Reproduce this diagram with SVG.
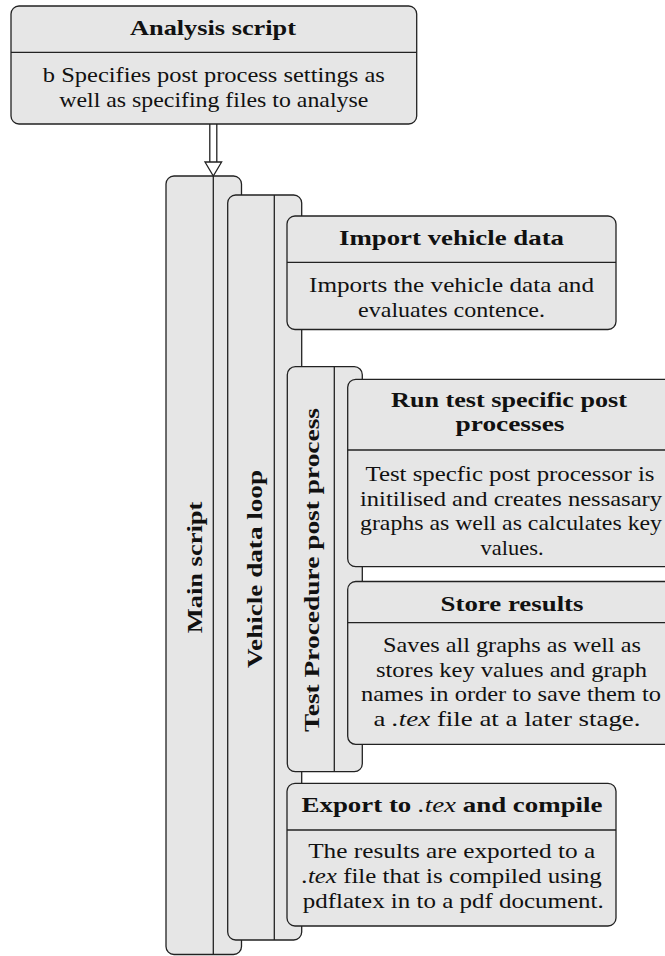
<svg xmlns="http://www.w3.org/2000/svg" width="665" height="956" viewBox="0 0 665 956">
<style>
.box{fill:#e6e6e6;stroke:#222;stroke-width:1.3}
.div{stroke:#222;stroke-width:1.3;fill:none}
text{font-family:'Liberation Serif','Times New Roman',serif;font-size:22px;fill:#111;text-anchor:middle}
.t{font-weight:bold}
.i{font-style:italic}
</style>
<rect width="665" height="956" fill="#fff"/>

<g id="main-script">
<rect class="box" x="166" y="176" width="75.5" height="778.5" rx="8"/>
<line class="div" x1="213.3" y1="176" x2="213.3" y2="954.5"/>
<text class="t" transform="translate(201.5,567.5) rotate(-90)" textLength="131.6" lengthAdjust="spacingAndGlyphs">Main script</text>
</g>

<g id="vehicle-data-loop">
<rect class="box" x="227.7" y="195" width="74" height="745" rx="8"/>
<line class="div" x1="274.3" y1="195" x2="274.3" y2="940"/>
<text class="t" transform="translate(261.5,569) rotate(-90)" textLength="198" lengthAdjust="spacingAndGlyphs">Vehicle data loop</text>
</g>

<g id="import-vehicle-data">
<rect class="box" x="287" y="216" width="329" height="113.5" rx="8"/>
<line class="div" x1="287" y1="262.3" x2="616" y2="262.3"/>
<text class="t" x="451.5" y="245" textLength="225" lengthAdjust="spacingAndGlyphs">Import vehicle data</text>
<text x="451.5" y="291.5" textLength="285" lengthAdjust="spacingAndGlyphs">Imports the vehicle data and</text>
<text x="451.5" y="316.5" textLength="187" lengthAdjust="spacingAndGlyphs">evaluates contence.</text>
</g>

<g id="test-procedure-post-process">
<rect class="box" x="287.3" y="366.7" width="75" height="405" rx="8"/>
<line class="div" x1="334.3" y1="366.7" x2="334.3" y2="771.7"/>
<text class="t" transform="translate(318.5,570) rotate(-90)" textLength="324" lengthAdjust="spacingAndGlyphs">Test Procedure post process</text>
</g>

<g id="run-test-specific">
<rect class="box" x="347.7" y="379.3" width="326" height="187.4" rx="8"/>
<line class="div" x1="347.7" y1="450" x2="673.7" y2="450"/>
<text class="t" x="509" y="406.7" textLength="236" lengthAdjust="spacingAndGlyphs">Run test specific post</text>
<text class="t" x="510" y="431" textLength="109" lengthAdjust="spacingAndGlyphs">processes</text>
<text x="510" y="481" textLength="289" lengthAdjust="spacingAndGlyphs">Test specfic post processor is</text>
<text x="511" y="505.5" textLength="302" lengthAdjust="spacingAndGlyphs">initilised and creates nessasary</text>
<text x="511" y="530" textLength="302" lengthAdjust="spacingAndGlyphs">graphs as well as calculates key</text>
<text x="512" y="554.5" textLength="63" lengthAdjust="spacingAndGlyphs">values.</text>
</g>

<g id="store-results">
<rect class="box" x="347.7" y="581.5" width="326" height="162.8" rx="8"/>
<line class="div" x1="347.7" y1="622.7" x2="673.7" y2="622.7"/>
<text class="t" x="512" y="610.7" textLength="143" lengthAdjust="spacingAndGlyphs">Store results</text>
<text x="512" y="652" textLength="258" lengthAdjust="spacingAndGlyphs">Saves all graphs as well as</text>
<text x="511.5" y="676.5" textLength="271" lengthAdjust="spacingAndGlyphs">stores key values and graph</text>
<text x="511" y="701" textLength="300" lengthAdjust="spacingAndGlyphs">names in order to save them to</text>
<text x="507" y="725.5" textLength="267" lengthAdjust="spacingAndGlyphs">a <tspan class="i">.tex</tspan> file at a later stage.</text>
</g>

<g id="export-tex">
<rect class="box" x="287" y="783.3" width="329" height="142.7" rx="8"/>
<line class="div" x1="287" y1="830" x2="616" y2="830"/>
<text class="t" x="452" y="811.7" textLength="301" lengthAdjust="spacingAndGlyphs">Export to <tspan class="i" font-weight="normal">.tex</tspan> and compile</text>
<text x="451.7" y="858.3" textLength="287" lengthAdjust="spacingAndGlyphs">The results are exported to a</text>
<text x="451.7" y="883.3" textLength="300" lengthAdjust="spacingAndGlyphs"><tspan class="i">.tex</tspan> file that is compiled using</text>
<text x="453.3" y="908.3" textLength="301" lengthAdjust="spacingAndGlyphs">pdflatex in to a pdf document.</text>
</g>

<g id="analysis-script">
<rect class="box" x="11" y="6" width="405.7" height="118" rx="8"/>
<line class="div" x1="11" y1="52.3" x2="416.7" y2="52.3"/>
<text class="t" x="213" y="35" textLength="166" lengthAdjust="spacingAndGlyphs">Analysis script</text>
<text x="213.8" y="82" textLength="342" lengthAdjust="spacingAndGlyphs">b Specifies post process settings as</text>
<text x="213.8" y="106.5" textLength="309" lengthAdjust="spacingAndGlyphs">well as specifing files to analyse</text>
</g>

<g id="connectors">
<line class="div" x1="209.8" y1="124" x2="209.8" y2="162"/>
<line class="div" x1="216.8" y1="124" x2="216.8" y2="162"/>
<polygon points="205,162 221.6,162 213.3,176" fill="#fff" stroke="#222" stroke-width="1.3" stroke-linejoin="miter"/>
</g>
</svg>
